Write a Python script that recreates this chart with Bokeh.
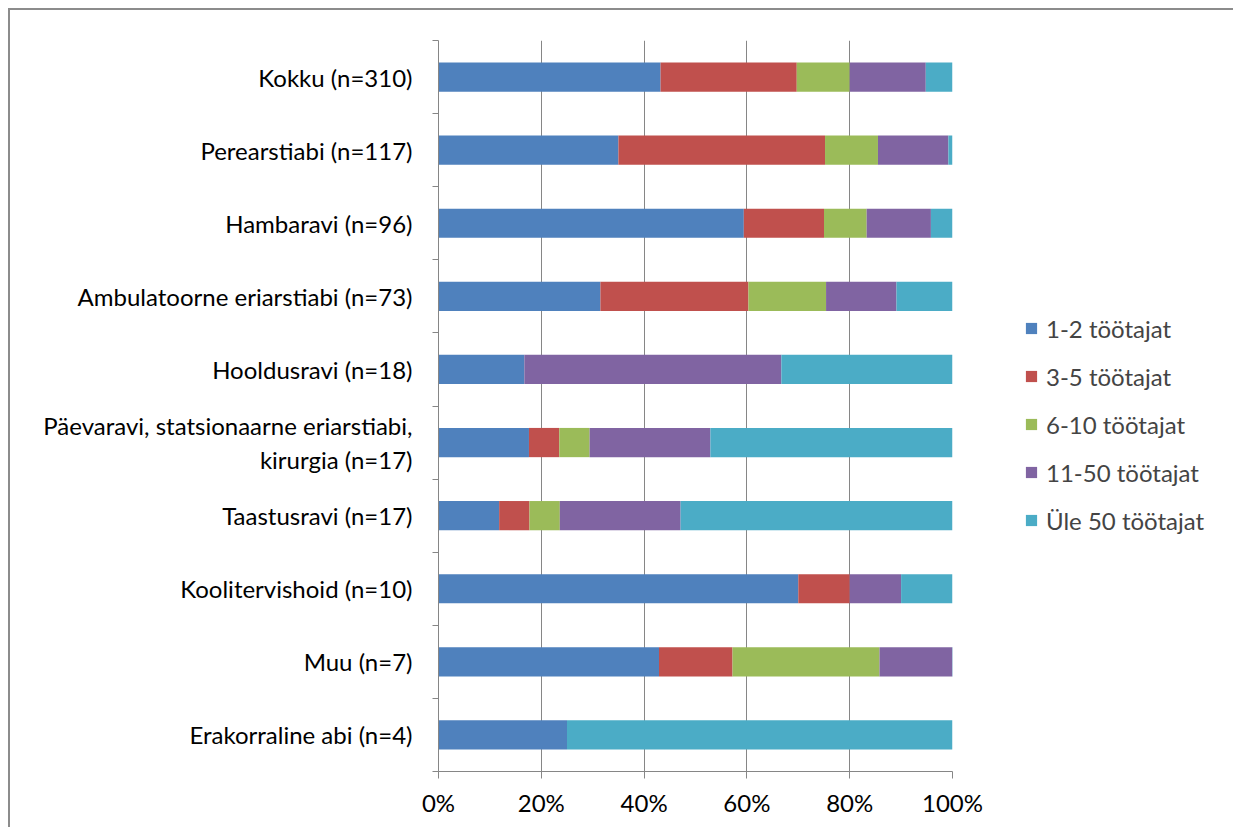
from bokeh.plotting import figure
from bokeh.models import ColumnDataSource, Range1d, FixedTicker, PrintfTickFormatter, Legend, LegendItem
from bokeh.embed import file_html
from bokeh.resources import INLINE

categories = [
    "Kokku (n=310)",
    "Perearstiabi (n=117)",
    "Hambaravi (n=96)",
    "Ambulatoorne eriarstiabi (n=73)",
    "Hooldusravi (n=18)",
    "Päevaravi, statsionaarne eriarstiabi,\nkirurgia (n=17)",
    "Taastusravi (n=17)",
    "Koolitervishoid (n=10)",
    "Muu (n=7)",
    "Erakorraline abi (n=4)",
]
series_names = ["1-2 töötajat", "3-5 töötajat", "6-10 töötajat", "11-50 töötajat", "Üle 50 töötajat"]
s_1_2 = [43.2, 35.0, 59.4, 31.5, 16.7, 17.6, 11.8, 70.0, 42.9, 25.0]
s_3_5 = [26.5, 40.2, 15.6, 28.8, 0.0, 5.9, 5.9, 10.0, 14.3, 0.0]
s_6_10 = [10.3, 10.3, 8.3, 15.1, 0.0, 5.9, 5.9, 0.0, 28.6, 0.0]
s_11_50 = [14.8, 13.7, 12.5, 13.7, 50.0, 23.5, 23.5, 10.0, 14.3, 0.0]
s_50 = [5.2, 0.8, 4.2, 10.9, 33.3, 47.1, 52.9, 10.0, 0.0, 75.0]
x_ticks = [0, 20, 40, 60, 80, 100]

colors = ["#4F81BD", "#C0504D", "#9BBB59", "#8064A2", "#4BACC6"]
FONT = "Lato"
FS = "24px"
AX = "#868686"

n = len(categories)
ypos = [n - 1 - i + 0.5 for i in range(n)]
keys = ["a", "b", "c", "d", "e"]
src = ColumnDataSource(dict(y=ypos, a=s_1_2, b=s_3_5, c=s_6_10, d=s_11_50, e=s_50))

p = figure(frame_width=514, frame_height=731, output_backend="svg", toolbar_location=None,
           x_range=Range1d(0, 100), y_range=Range1d(0, n),
           min_border_left=428, min_border_right=18, min_border_top=30, min_border_bottom=56)
p.styles = {"border-top": "2px solid #8c8c8c", "border-left": "2px solid #8c8c8c",
            "margin-left": "8px", "margin-top": "8px"}

renderers = p.hbar_stack(keys, y="y", height=0.4, color=colors, source=src, line_color=None)

p.outline_line_color = None
p.ygrid.grid_line_color = None
p.xgrid.grid_line_color = AX
p.xgrid.ticker = FixedTicker(ticks=x_ticks)

xa = p.xaxis[0]
xa.ticker = FixedTicker(ticks=x_ticks)
xa.formatter = PrintfTickFormatter(format="%d%%")
xa.axis_line_color = AX
xa.major_tick_line_color = AX
xa.major_tick_out = 7
xa.major_tick_in = 0
xa.minor_tick_line_color = None
xa.major_label_text_font = FONT
xa.major_label_text_font_size = FS
xa.major_label_text_color = "black"
xa.major_label_standoff = 9

ya = p.yaxis[0]
ya.ticker = FixedTicker(ticks=ypos, minor_ticks=list(range(0, n + 1)))
ya.major_label_overrides = {y: c for y, c in zip(ypos, categories)}
ya.axis_line_color = AX
ya.major_tick_line_color = None
ya.major_tick_out = 6
ya.major_tick_in = 0
ya.minor_tick_line_color = AX
ya.minor_tick_out = 6
ya.minor_tick_in = 0
ya.major_label_text_font = FONT
ya.major_label_text_font_size = FS
ya.major_label_text_color = "black"
ya.major_label_standoff = 20

lg = Legend(items=[LegendItem(label=s, renderers=[r]) for s, r in zip(series_names, renderers)])
lg.location = (72, 236)
lg.border_line_color = None
lg.background_fill_alpha = 0
lg.padding = 0
lg.margin = 0
lg.glyph_width = 14
lg.glyph_height = 14
lg.label_standoff = 8
lg.label_text_font = FONT
lg.label_text_font_size = FS
lg.label_height = 30
lg.spacing = 18
p.add_layout(lg, "right")

open("out.html", "w").write(file_html(p, INLINE))
